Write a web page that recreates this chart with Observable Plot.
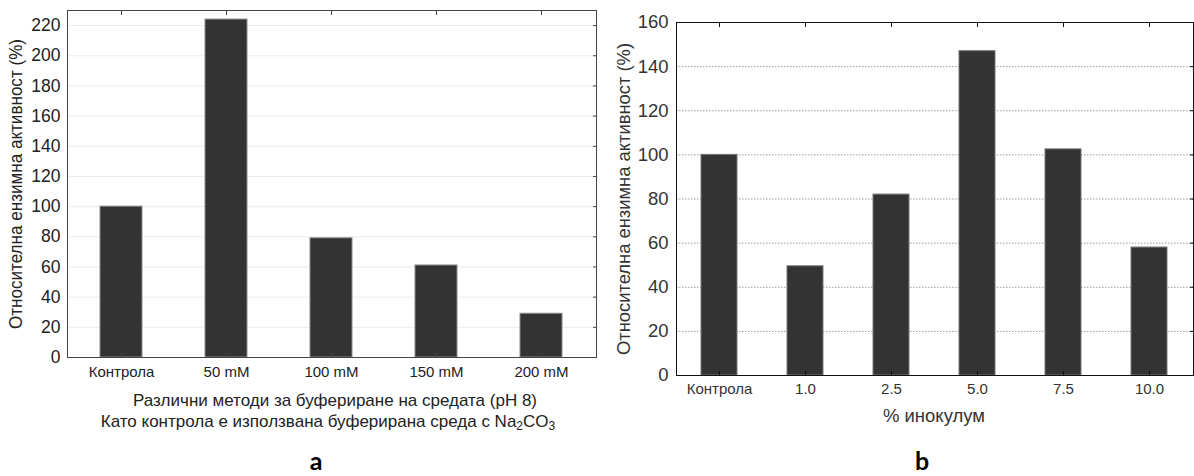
<!DOCTYPE html>
<html><head><meta charset="utf-8">
<script src="https://cdn.jsdelivr.net/npm/d3@7"></script>
<script src="https://cdn.jsdelivr.net/npm/@observablehq/plot@0.6"></script>
<style>
body{margin:0;background:#fff;font-family:"Liberation Sans",Arial,sans-serif;}
#root{position:relative;width:1194px;height:476px;overflow:hidden;background:#fff;}
.abs{position:absolute;white-space:nowrap;text-align:center;color:#222;}
.abs svg{display:block;}
.lbl{font-size:17px;line-height:19px;}
.lblb{font-size:18.5px;line-height:20px;color:#333;}
.panel{font-family:Lato,"Open Sans",sans-serif;font-weight:700;font-size:25px;line-height:26px;color:#000;}
</style></head><body><div id="root"></div>
<script>
// Panel a
const catsA = ["Контрола", "50 mM", "100 mM", "150 mM", "200 mM"];
const valsA = [100, 224, 79, 61, 29];
const ticksA = [0, 20, 40, 60, 80, 100, 120, 140, 160, 180, 200, 220];
const yLabelA = "Относителна ензимна активност (%)";
// Panel b
const catsB = ["Контрола", "1.0", "2.5", "5.0", "7.5", "10.0"];
const valsB = [100, 49.5, 82, 147, 102.5, 58];
const ticksB = [0, 20, 40, 60, 80, 100, 120, 140, 160];
const yLabelB = "Относителна ензимна активност (%)";

const dataA = catsA.map((c, i) => ({c, v: valsA[i]}));
const dataB = catsB.map((c, i) => ({c, v: valsB[i]}));
const blank = () => "";

const plotA = Plot.plot({
  width: 600, height: 390,
  marginLeft: 67, marginRight: 4, marginTop: 10, marginBottom: 33,
  style: {fontFamily: "Liberation Sans, Arial, sans-serif", fontSize: "15px", color: "#222", background: "transparent"},
  x: {domain: catsA, paddingInner: 0.6, paddingOuter: 0.3, label: null},
  y: {domain: [0, 230], label: null},
  marks: [
    Plot.ruleY(ticksA.slice(1), {stroke: "#ececec"}),
    Plot.barY(dataA, {x: "c", y: "v", fill: "#333", stroke: "#8a8a8a", strokeWidth: 1}),
    Plot.frame({stroke: "#444"}),
    Plot.axisX({tickSize: 0, tickPadding: 9, label: null}),
    Plot.axisX({anchor: "bottom", tickSize: -4, tickFormat: blank, label: null, stroke: "#444"}),
    Plot.axisX({anchor: "top", tickSize: -4, tickFormat: blank, label: null, stroke: "#444"}),
    Plot.axisY({ticks: ticksA, tickSize: 0, tickPadding: 7, label: yLabelA, labelAnchor: "center", labelOffset: 58, labelArrow: "none", fontSize: 17.5}),
    Plot.axisY({anchor: "right", ticks: ticksA, tickSize: -4, tickFormat: blank, label: null, stroke: "#444"})
  ]
});

const plotB = Plot.plot({
  width: 594, height: 400,
  marginLeft: 76, marginRight: 1, marginTop: 22, marginBottom: 25,
  style: {fontFamily: "Liberation Sans, Arial, sans-serif", fontSize: "15px", color: "#333", background: "transparent"},
  x: {domain: catsB, paddingInner: 0.58, paddingOuter: 0.29, label: null},
  y: {domain: [0, 160], label: null},
  marks: [
    Plot.ruleY(ticksB.slice(1, -1), {stroke: "#9a9a9a", strokeDasharray: "1.5,1.5"}),
    Plot.barY(dataB, {x: "c", y: "v", fill: "#333", stroke: "#777", strokeWidth: 1}),
    Plot.frame({stroke: "#111"}),
    Plot.axisX({tickSize: 0, tickPadding: 8, label: null}),
    Plot.axisX({anchor: "bottom", tickSize: -4, tickFormat: blank, label: null, stroke: "#111"}),
    Plot.axisX({anchor: "top", tickSize: -4, tickFormat: blank, label: null, stroke: "#111"}),
    Plot.axisY({ticks: ticksB, tickSize: 0, tickPadding: 8, label: yLabelB, labelAnchor: "center", labelOffset: 60, labelArrow: "none", fontSize: 18.5}),
    Plot.axisY({anchor: "right", ticks: ticksB, tickSize: -4, tickFormat: blank, label: null, stroke: "#111"})
  ]
});

const root = document.getElementById("root");
function place(node, left, top) {
  const d = document.createElement("div");
  d.className = "abs";
  d.style.left = left + "px"; d.style.top = top + "px";
  d.appendChild(node);
  root.appendChild(d);
  return d;
}
place(plotA, 0, 0);
place(plotB, 600, 0);

// fit the rotated y titles to the lengths seen in the reference
function fitLabel(svg, len) {
  const t = svg.querySelector('g[aria-label="y-axis label"] text');
  if (t) { t.setAttribute("textLength", len); t.setAttribute("lengthAdjust", "spacingAndGlyphs"); }
}
fitLabel(plotA, 290);
fitLabel(plotB, 312);

function htmlLabel(html, cx, cy, cls) {
  const d = document.createElement("div");
  d.className = "abs " + cls;
  d.innerHTML = html;
  d.style.width = "600px";
  d.style.left = (cx - 300) + "px";
  root.appendChild(d);
  d.style.top = (cy - d.offsetHeight / 2) + "px";
}
const sub = s => `<sub style='font-size:12px;line-height:0;vertical-align:-3px'>${s}</sub>`;
htmlLabel("Различни методи за буфериране на средата (pH 8)", 335, 400, "lbl");
htmlLabel(`Като контрола е използвана буферирана среда с Na${sub(2)}CO${sub(3)}`, 328, 421, "lbl");
htmlLabel("% инокулум", 934, 416, "lblb");
htmlLabel("a", 316, 460, "panel");
htmlLabel("b", 922, 460, "panel");
</script></body></html>
